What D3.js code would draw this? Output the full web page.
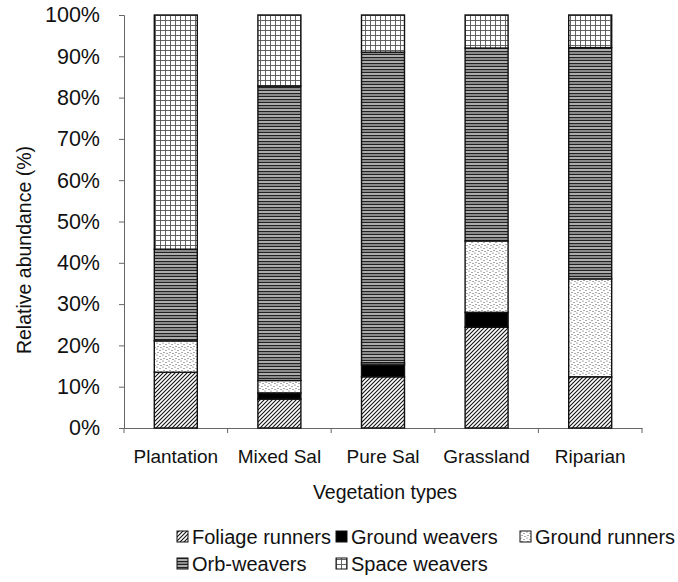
<html>
<head>
<style>
  body { margin: 0; background: #fff; }
  text { font-family: "Liberation Sans", Arial, sans-serif; fill: #111; }
</style>
</head>
<body>
<svg id="svg" width="678" height="582"></svg>
<script src="https://d3js.org/d3.v7.min.js"></script>
<script>
// data (percent of spiders per guild)
const categories = ["Plantation", "Mixed Sal", "Pure Sal", "Grassland", "Riparian"];
const guilds = ["Foliage runners", "Ground weavers", "Ground runners", "Orb-weavers", "Space weavers"];
const foliageRunners = [13.5, 7.0, 12.4, 24.4, 12.4];
const groundWeavers  = [0.0, 1.5, 2.9, 3.6, 0.0];
const groundRunners  = [7.6, 3.0, 0.5, 17.3, 23.7];
const orbWeavers     = [22.2, 71.3, 75.2, 46.7, 56.0];
const spaceWeavers   = [56.7, 17.2, 9.0, 8.0, 7.9];
const yTicks = [0, 10, 20, 30, 40, 50, 60, 70, 80, 90, 100];

const series = [foliageRunners, groundWeavers, groundRunners, orbWeavers, spaceWeavers];
const rows = categories.map((c, i) => {
  let r = {cat: c};
  guilds.forEach((g, j) => r[g] = series[j][i]);
  return r;
});

const svg = d3.select("#svg");
const defs = svg.append("defs");

// fill patterns, one per guild
function pat(id, w, h) {
  let p = defs.append("pattern").attr("id", id)
    .attr("patternUnits", "userSpaceOnUse").attr("width", w).attr("height", h);
  return p;
}
let p1 = pat("hatch", 4, 4);
p1.append("rect").attr("width", 4).attr("height", 4).attr("fill", "#fff");
p1.append("path").attr("d", "M-1,1 l2,-2 M0,4 l4,-4 M3,5 l2,-2")
  .attr("stroke", "#111").attr("stroke-width", 1.1);

let p3 = pat("dots", 6, 6);
p3.append("rect").attr("width", 6).attr("height", 6).attr("fill", "#fff");
[[1, 1], [4, 2.5], [2, 4.5], [5, 5.5]].forEach(d =>
  p3.append("circle").attr("cx", d[0]).attr("cy", d[1]).attr("r", 0.6).attr("fill", "#444"));

let p4 = pat("lines", 6, 6);
p4.append("rect").attr("width", 6).attr("height", 6).attr("fill", "#8a8a8a");
p4.append("path").attr("d", "M0,0.5 h6 M0,3.5 h6").attr("stroke", "#222").attr("stroke-width", 1);
p4.append("path").attr("d", "M0,2 h6").attr("stroke", "#eee").attr("stroke-width", 0.7);

let p5 = pat("grid", 5, 5);
p5.append("rect").attr("width", 5).attr("height", 5).attr("fill", "#fff");
p5.append("path").attr("d", "M0.5,0 v5 M0,0.5 h5").attr("stroke", "#555").attr("stroke-width", 0.9);

const fills = {
  "Foliage runners": "url(#hatch)",
  "Ground weavers": "#000",
  "Ground runners": "url(#dots)",
  "Orb-weavers": "url(#lines)",
  "Space weavers": "url(#grid)"
};

const x = d3.scaleBand().domain(categories).range([124, 642])
  .paddingInner(0.585).paddingOuter(0.2925);
const y = d3.scaleLinear().domain([0, 100]).range([428, 15]);

// axes
svg.append("g").attr("transform", "translate(124,0)")
  .call(d3.axisLeft(y).tickValues(yTicks).tickSize(5).tickPadding(19)
    .tickFormat(d => d + "%"))
  .call(g => g.selectAll("text").style("font-size", "21.5px"))
  .call(g => g.selectAll("line,path").attr("stroke", "#666"));

svg.append("g").attr("transform", "translate(0,428)")
  .call(d3.axisBottom(x).tickSize(0).tickPadding(22))
  .call(g => g.selectAll("text").style("font-size", "19px"))
  .call(g => g.select("path").attr("stroke", "#666"));

// category boundary ticks
const step = x.step();
svg.append("g").selectAll("line")
  .data(d3.range(categories.length + 1))
  .join("line")
  .attr("x1", i => 124 + i * step).attr("x2", i => 124 + i * step)
  .attr("y1", 428).attr("y2", 433).attr("stroke", "#666");

// stacked bars
const stacked = d3.stack().keys(guilds)(rows);
svg.append("g").selectAll("g")
  .data(stacked)
  .join("g")
  .attr("fill", d => fills[d.key])
  .selectAll("rect")
  .data(d => d.filter(s => s[1] - s[0] > 0))
  .join("rect")
  .attr("x", d => x(d.data.cat))
  .attr("width", x.bandwidth())
  .attr("y", d => y(d[1]))
  .attr("height", d => y(d[0]) - y(d[1]))
  .attr("stroke", "#111").attr("stroke-width", 1.4);

// axis titles
svg.append("text").attr("x", 385).attr("y", 499).attr("text-anchor", "middle")
  .style("font-size", "19.5px").text("Vegetation types");
svg.append("text").attr("transform", "translate(31,250) rotate(-90)")
  .attr("text-anchor", "middle").style("font-size", "19.5px")
  .text("Relative abundance (%)");

// legend
const legPos = [[177, 537], [336, 537], [520, 537], [177, 564], [336, 564]];
const leg = svg.append("g").selectAll("g")
  .data(guilds)
  .join("g")
  .attr("transform", (d, i) => `translate(${legPos[i][0]},${legPos[i][1]})`);
leg.append("rect").attr("x", 0).attr("y", -6).attr("width", 11).attr("height", 11)
  .attr("fill", d => fills[d]).attr("stroke", "#111").attr("stroke-width", 1);
leg.append("text").attr("x", 15).attr("y", 7).style("font-size", "20px").text(d => d);
</script>
</body>
</html>
